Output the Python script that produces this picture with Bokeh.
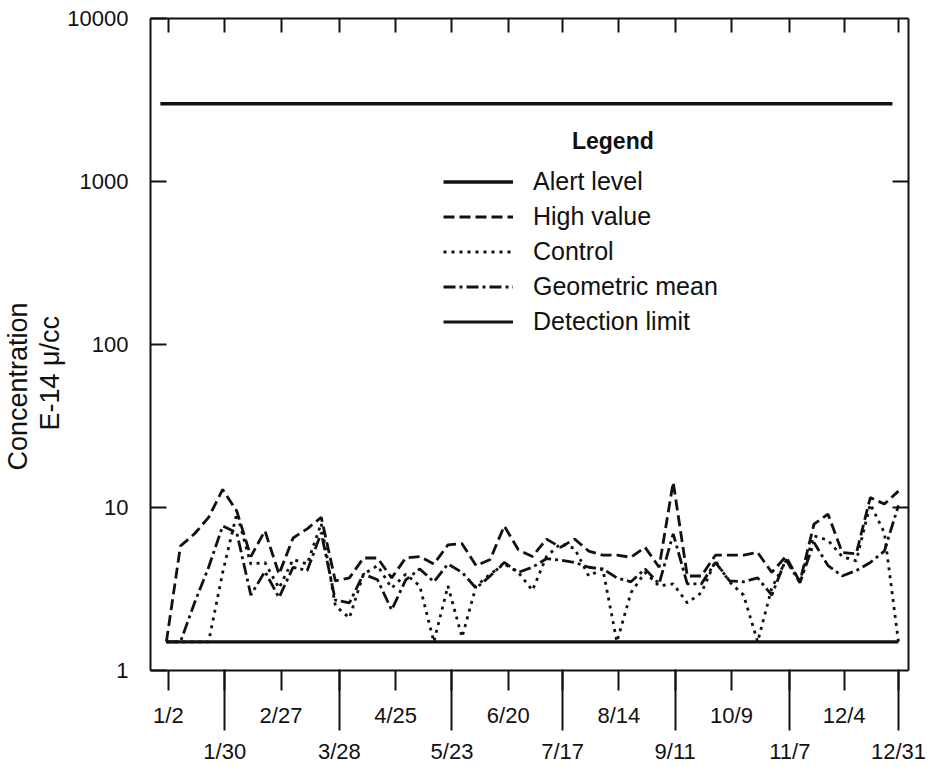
from bokeh.plotting import figure
from bokeh.models import FixedTicker, LogAxis, LinearAxis, Legend, LegendItem, Label, Title
from bokeh.embed import file_html
from bokeh.resources import INLINE

# ---- data (day of year, Jan 1 = 0) ----
sample_days = [0, 7, 14, 21, 28, 35, 42, 49, 56, 63, 70, 77, 84, 91, 98, 105, 112, 119,
               126, 133, 140, 147, 154, 161, 168, 175, 182, 189, 196, 203, 210, 217, 224,
               231, 238, 245, 252, 259, 266, 273, 280, 287, 294, 301, 308, 315, 322, 329,
               336, 343, 350, 357, 364]

high_value = [1.5, 5.8, 6.9, 8.7, 12.9, 9.5, 5.0, 7.2, 3.9, 6.5, 7.4, 8.7, 3.55, 3.7,
              4.9, 4.9, 3.7, 4.9, 5.0, 4.5, 5.9, 6.0, 4.4, 4.8, 7.7, 5.5, 5.0, 6.4, 5.7,
              6.4, 5.4, 5.1, 5.1, 4.95, 5.7, 4.3, 14.3, 3.8, 3.8, 5.1, 5.1, 5.1, 5.3, 4.0,
              5.0, 3.5, 7.9, 9.1, 5.3, 5.2, 11.5, 10.5, 12.6]

control = [1.5, 1.5, 1.5, 1.5, 4.0, 9.2, 4.5, 4.6, 3.2, 4.8, 4.5, 8.0, 2.5, 2.1,
           3.9, 4.4, 3.2, 3.9, 3.3, 1.5, 3.3, 1.6, 3.3, 3.9, 4.5, 4.0, 3.1, 5.0, 6.0,
           5.6, 3.8, 4.2, 1.5, 3.0, 4.0, 3.3, 3.4, 2.6, 3.0, 4.7, 3.5, 2.9, 1.5, 3.2,
           4.7, 3.6, 6.7, 6.3, 5.0, 4.7, 10.5, 7.0, 1.5]

geometric_mean = [1.5, 1.5, 2.6, 4.3, 7.7, 7.0, 2.9, 4.05, 2.8, 4.3, 4.1, 7.0, 2.7, 2.6,
                  3.9, 3.6, 2.35, 3.6, 4.2, 3.5, 4.5, 4.0, 3.2, 3.8, 4.6, 4.0, 4.3, 4.85,
                  4.75, 4.6, 4.3, 4.2, 3.7, 3.5, 4.2, 3.4, 6.9, 3.4, 3.4, 4.6, 3.55, 3.5,
                  3.7, 2.9, 4.8, 3.45, 6.1, 4.4, 3.8, 4.1, 4.6, 5.4, 10.3]

alert_days = [-3, 361]
alert_level = [3000, 3000]
detection_days = [0, 364]
detection_limit = [1.5, 1.5]

tick_days = [1, 29, 57, 86, 114, 142, 170, 197, 225, 253, 281, 310, 337, 364]
tick_labels = ["1/2", "1/30", "2/27", "3/28", "4/25", "5/23", "6/20", "7/17",
               "8/14", "9/11", "10/9", "11/7", "12/4", "12/31"]

y_ticks = [1, 10, 100, 1000, 10000]
y_tick_labels = ["1", "10", "100", "1000", "10000"]

legend_labels = ["Alert level", "High value", "Control", "Geometric mean", "Detection limit"]
y_title_lines = ["E-14 μ/cc", "Concentration"]

INK = "#111111"
FONT = "Liberation Sans"

p = figure(width=929, height=767, x_range=(-7.9, 369), y_range=(1, 10000),
           y_axis_type="log", output_backend="svg", toolbar_location=None,
           min_border_left=147, min_border_right=21, min_border_top=18,
           min_border_bottom=97)
p.background_fill_color = "white"
p.border_fill_color = "white"
p.outline_line_color = None
p.grid.visible = False


def blank(ticks):
    return {t: "" for t in ticks}


# ---- bottom axis A: short ticks at every date, labels of the upper row
odd_days = tick_days[1::2]
xa = p.xaxis[0]
xa.ticker = FixedTicker(ticks=tick_days)
xa.major_label_overrides = {d: (lab if k % 2 == 0 else "")
                            for k, (d, lab) in enumerate(zip(tick_days, tick_labels))}
xa.major_tick_in = 0
xa.major_tick_out = 20
xa.major_label_standoff = 12
xa.axis_line_width = 2
xa.major_tick_line_width = 2
xa.axis_line_color = INK
xa.major_tick_line_color = INK
xa.major_label_text_font = FONT
xa.major_label_text_font_size = "22px"
xa.major_label_text_color = INK

# ---- bottom axis B: long ticks reaching up to the frame, labels of the lower row
xb = LinearAxis(ticker=FixedTicker(ticks=odd_days),
                major_label_overrides={d: lab for k, (d, lab) in
                                       enumerate(zip(tick_days, tick_labels)) if k % 2 == 1},
                major_tick_in=61, major_tick_out=0, major_label_standoff=8,
                axis_line_color=None, major_tick_line_width=2, major_tick_line_color=INK,
                major_label_text_font=FONT, major_label_text_font_size="22px",
                major_label_text_color=INK)
p.add_layout(xb, "below")

# ---- top axis (ticks inside)
ta = LinearAxis(ticker=FixedTicker(ticks=tick_days), major_tick_in=14, major_tick_out=0,
                major_label_overrides=blank(tick_days), major_label_text_font_size="1px",
                major_label_standoff=0, axis_line_width=2, major_tick_line_width=2,
                axis_line_color=INK, major_tick_line_color=INK)
p.add_layout(ta, "above")

# ---- left axis
ya = p.yaxis[0]
ya.ticker = FixedTicker(ticks=y_ticks)
ya.major_label_overrides = {v: s for v, s in zip(y_ticks, y_tick_labels)}
ya.major_tick_in = 16
ya.major_tick_out = 0
ya.minor_tick_in = 0
ya.minor_tick_out = 0
ya.major_label_standoff = 22
ya.axis_line_width = 2
ya.major_tick_line_width = 2
ya.axis_line_color = INK
ya.major_tick_line_color = INK
ya.major_label_text_font = FONT
ya.major_label_text_font_size = "22px"
ya.major_label_text_color = INK

# ---- right axis (ticks inside)
right_ticks = [10, 1000]
ra = LogAxis(ticker=FixedTicker(ticks=right_ticks), major_tick_in=16, major_tick_out=0,
             major_label_overrides=blank(right_ticks), major_label_text_font_size="1px",
             major_label_standoff=0, axis_line_width=2, major_tick_line_width=2,
             axis_line_color=INK, major_tick_line_color=INK)
p.add_layout(ra, "right")

# ---- y axis title (two lines, set low along the axis as in the original)
for txt, off in zip(y_title_lines, [240, 200]):
    p.add_layout(Title(text=txt, align="left", offset=off, standoff=0,
                       text_font=FONT, text_font_size="27px", text_font_style="normal",
                       text_color=INK), "left")

# ---- series
r_alert = p.line(alert_days, alert_level, line_color=INK, line_width=3.5)
r_high = p.line(sample_days, high_value, line_color=INK, line_width=2.8, line_dash="11 5")
r_ctrl = p.line(sample_days, control, line_color=INK, line_width=2.8, line_dash="3 5")
r_mean = p.line(sample_days, geometric_mean, line_color=INK, line_width=2.8,
                line_dash="12 4 3 4")
r_det = p.line(detection_days, detection_limit, line_color=INK, line_width=3.2)

legend = Legend(items=[LegendItem(label=lab, renderers=[r]) for lab, r in
                       zip(legend_labels, [r_alert, r_high, r_ctrl, r_mean, r_det])],
                location=(293, 334), padding=0, margin=0, spacing=6,
                label_height=25, glyph_height=25, glyph_width=70, label_standoff=20,
                background_fill_alpha=0, border_line_alpha=0,
                label_text_font=FONT, label_text_font_size="25px",
                label_text_color=INK)
p.add_layout(legend)

p.add_layout(Label(x=222, y=1760, text="Legend", text_align="center",
                   text_baseline="middle", text_font=FONT, text_font_size="23px",
                   text_font_style="bold", text_color=INK))

open("out.html", "w").write(file_html(p, INLINE))
